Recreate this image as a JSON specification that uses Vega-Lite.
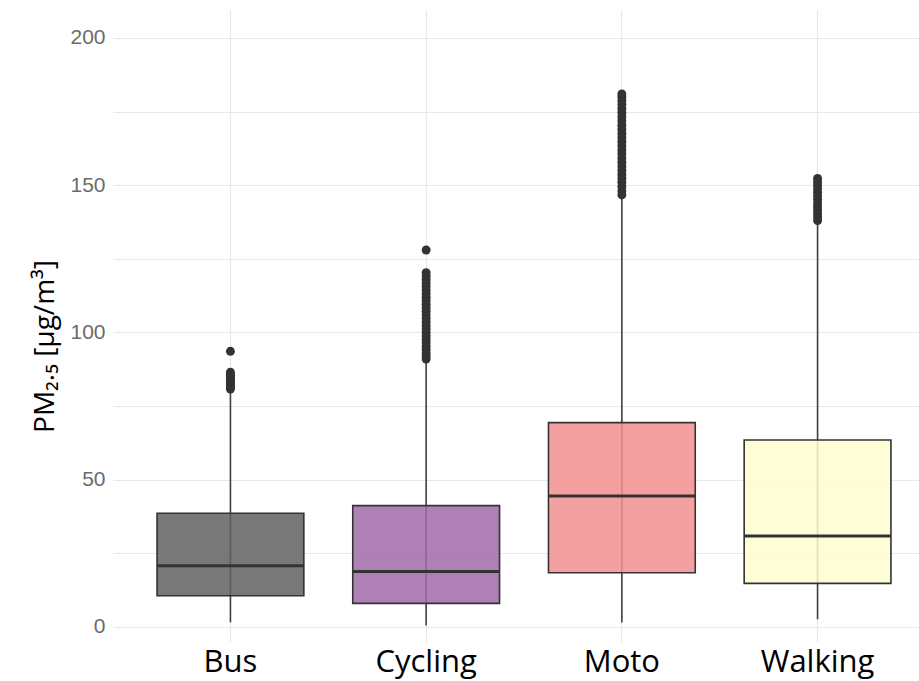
{
  "$schema": "https://vega.github.io/schema/vega-lite/v6.json",
  "autosize": "none",
  "padding": {"left": 113, "top": 10, "right": 0, "bottom": 39},
  "width": 806,
  "height": 632,
  "background": "white",
  "config": {
    "view": {"stroke": null},
    "axis": {"gridColor": "#e8e8e8", "gridWidth": 1.2, "domain": false, "ticks": false}
  },
  "datasets": {
    "stats": [
      {"mode": "Bus", "lower": 1.6, "q1": 10.6, "median": 20.8, "q3": 38.6, "upper": 80.5},
      {"mode": "Cycling", "lower": 0.5, "q1": 8.0, "median": 18.8, "q3": 41.2, "upper": 90.5},
      {"mode": "Moto", "lower": 1.5, "q1": 18.4, "median": 44.5, "q3": 69.4, "upper": 146.3},
      {"mode": "Walking", "lower": 2.6, "q1": 14.8, "median": 30.9, "q3": 63.5, "upper": 137.5}
    ],
    "outliers": [
      {"mode": "Bus", "value": 80.8}, {"mode": "Bus", "value": 81.3}, {"mode": "Bus", "value": 81.8},
      {"mode": "Bus", "value": 82.3}, {"mode": "Bus", "value": 82.8}, {"mode": "Bus", "value": 83.3},
      {"mode": "Bus", "value": 83.8}, {"mode": "Bus", "value": 84.3}, {"mode": "Bus", "value": 84.8},
      {"mode": "Bus", "value": 85.3}, {"mode": "Bus", "value": 85.8}, {"mode": "Bus", "value": 86.5},
      {"mode": "Bus", "value": 93.6},
      {"mode": "Cycling", "value": 91.0}, {"mode": "Cycling", "value": 92.0}, {"mode": "Cycling", "value": 93.0},
      {"mode": "Cycling", "value": 94.2}, {"mode": "Cycling", "value": 95.3}, {"mode": "Cycling", "value": 96.5},
      {"mode": "Cycling", "value": 97.6}, {"mode": "Cycling", "value": 98.8}, {"mode": "Cycling", "value": 100.0},
      {"mode": "Cycling", "value": 101.2}, {"mode": "Cycling", "value": 102.4}, {"mode": "Cycling", "value": 103.6},
      {"mode": "Cycling", "value": 104.8}, {"mode": "Cycling", "value": 106.0}, {"mode": "Cycling", "value": 107.2},
      {"mode": "Cycling", "value": 108.4}, {"mode": "Cycling", "value": 109.6}, {"mode": "Cycling", "value": 110.8},
      {"mode": "Cycling", "value": 112.0}, {"mode": "Cycling", "value": 113.2}, {"mode": "Cycling", "value": 114.4},
      {"mode": "Cycling", "value": 115.6}, {"mode": "Cycling", "value": 116.8}, {"mode": "Cycling", "value": 118.0},
      {"mode": "Cycling", "value": 119.2}, {"mode": "Cycling", "value": 120.3}, {"mode": "Cycling", "value": 128.0},
      {"mode": "Moto", "value": 146.7}, {"mode": "Moto", "value": 148.0}, {"mode": "Moto", "value": 149.5},
      {"mode": "Moto", "value": 151.0}, {"mode": "Moto", "value": 152.3}, {"mode": "Moto", "value": 153.6},
      {"mode": "Moto", "value": 155.0}, {"mode": "Moto", "value": 156.4}, {"mode": "Moto", "value": 157.8},
      {"mode": "Moto", "value": 159.2}, {"mode": "Moto", "value": 160.6}, {"mode": "Moto", "value": 162.0},
      {"mode": "Moto", "value": 163.4}, {"mode": "Moto", "value": 164.8}, {"mode": "Moto", "value": 166.2},
      {"mode": "Moto", "value": 167.6}, {"mode": "Moto", "value": 169.0}, {"mode": "Moto", "value": 170.4},
      {"mode": "Moto", "value": 171.8}, {"mode": "Moto", "value": 173.2}, {"mode": "Moto", "value": 174.6},
      {"mode": "Moto", "value": 176.0}, {"mode": "Moto", "value": 177.4}, {"mode": "Moto", "value": 178.8},
      {"mode": "Moto", "value": 180.0}, {"mode": "Moto", "value": 181.0},
      {"mode": "Walking", "value": 138.0}, {"mode": "Walking", "value": 139.2}, {"mode": "Walking", "value": 140.4},
      {"mode": "Walking", "value": 141.6}, {"mode": "Walking", "value": 142.8}, {"mode": "Walking", "value": 144.0},
      {"mode": "Walking", "value": 145.2}, {"mode": "Walking", "value": 146.4}, {"mode": "Walking", "value": 147.6},
      {"mode": "Walking", "value": 148.8}, {"mode": "Walking", "value": 150.0}, {"mode": "Walking", "value": 151.2},
      {"mode": "Walking", "value": 152.3}
    ]
  },
  "encoding": {
    "x": {
      "field": "mode", "type": "nominal", "sort": ["Bus", "Cycling", "Moto", "Walking"],
      "scale": {"range": [0, 822], "paddingInner": 0, "paddingOuter": 0.1},
      "axis": {"title": null, "labelAngle": 0, "labelFont": "Open Sans", "labelFontSize": 31, "labelColor": "#000000", "labelPadding": 5, "grid": true}
    }
  },
  "layer": [
    {
      "data": {"name": "stats"},
      "mark": {"type": "rule", "color": "#3f3f3f", "strokeWidth": 1.6},
      "encoding": {
        "y": {
          "field": "lower", "type": "quantitative",
          "scale": {"domain": [-5.1, 209.5], "nice": false, "zero": false},
          "axis": {
            "values": [0, 25, 50, 75, 100, 125, 150, 175, 200],
            "labelExpr": "datum.value % 50 === 0 ? datum.label : ''",
            "labelFont": "Liberation Sans", "labelFontSize": 21, "labelColor": "#6b6b6b", "labelPadding": 8,
            "title": "PM₂.₅ [μg/m³]", "titleFont": "Open Sans", "titleFontSize": 28, "titleFontWeight": "normal",
            "titleColor": "#000000", "titlePadding": 10, "titleY": 336
          }
        },
        "y2": {"field": "upper"}
      }
    },
    {
      "data": {"name": "stats"},
      "mark": {"type": "bar", "width": {"band": 0.75}, "fillOpacity": 0.85, "stroke": "#333333", "strokeWidth": 1.6},
      "encoding": {
        "y": {"field": "q1", "type": "quantitative"},
        "y2": {"field": "q3"},
        "fill": {
          "field": "mode", "type": "nominal",
          "scale": {"domain": ["Bus", "Cycling", "Moto", "Walking"], "range": ["#606060", "#a06aa8", "#f38f8f", "#fefecf"]},
          "legend": null
        }
      }
    },
    {
      "data": {"name": "stats"},
      "mark": {"type": "bar", "width": {"band": 0.75}, "fill": "#333333", "stroke": "#333333", "strokeWidth": 3},
      "encoding": {
        "y": {"field": "median", "type": "quantitative"},
        "y2": {"field": "median"}
      }
    },
    {
      "data": {"name": "outliers"},
      "mark": {"type": "point", "filled": true, "shape": "circle", "color": "#333333", "opacity": 1, "size": 80},
      "encoding": {
        "y": {"field": "value", "type": "quantitative"}
      }
    }
  ]
}
